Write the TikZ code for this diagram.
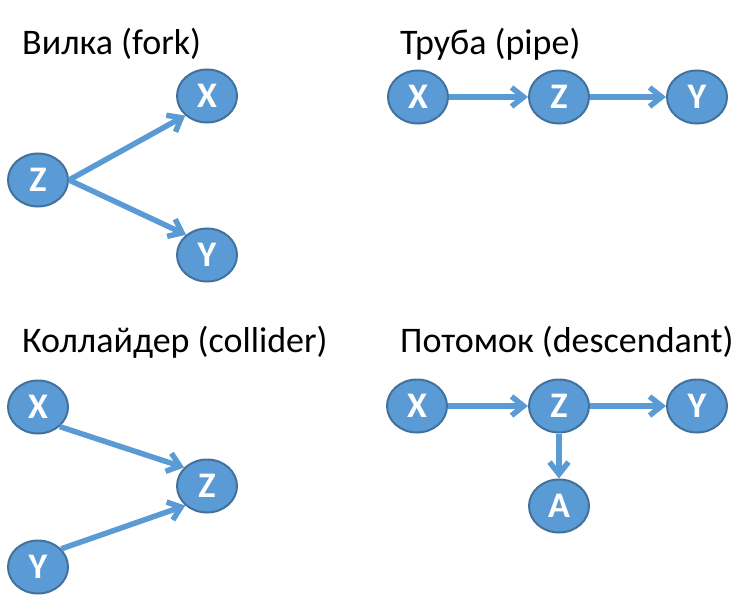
\documentclass[tikz,border=0pt]{standalone}
\usepackage{fontspec}
\setmainfont{Carlito}
\usetikzlibrary{arrows.meta,shapes.geometric}
\definecolor{varfill}{HTML}{5B9BD5}
\definecolor{varline}{HTML}{41719C}
\tikzset{
    var/.style={ellipse, fill=varfill, draw=varline, line width=2pt,
    minimum width=60pt, minimum height=53pt, inner sep=0pt, text=white,
    font=\fontsize{36}{36}\selectfont\bfseries},
    ttl/.style={anchor=base west, inner sep=0pt, font=\fontsize{36}{36}\selectfont},
    dep/.style={draw=varfill, line width=5.5pt, -{Straight Barb[length=12pt,width=19pt]}}
}
\begin{document}
\begin{tikzpicture}[x=1pt,y=-1pt]
        \useasboundingbox (0,0) rectangle (745,602);
        % fork
        \node[ttl] (forkttl) at (22,55) {Вилка (fork)};
        \node[var] (fz) at (38,180) {Z};
        \node[var] (fx) at (207,96) {X};
        \node[var] (fy) at (207,255) {Y};
        \draw[dep] (fz.east) -- (fx.222);
        \draw[dep] (fz.east) -- (fy.136);
        % pipe
        \node[ttl] (pipettl) at (400,55) {Труба (pipe)};
        \node[var] (px) at (418,97) {X};
        \node[var] (pz) at (559,97) {Z};
        \node[var] (py) at (697,97) {Y};
        \draw[dep] (px) -- (pz);
        \draw[dep] (pz) -- (py);
        % collider
        \node[ttl] (colttl) at (22,352) {Коллайдер (collider)};
        \node[var] (cx) at (38,407) {X};
        \node[var] (cz) at (207,486) {Z};
        \node[var] (cy) at (38,567) {Y};
        \draw[dep] (cx.-42) -- (cz.141);
        \draw[dep] (cy.38) -- (cz.222);
        % descendant
        \node[ttl] (descttl) at (400,352) {Потомок (descendant)};
        \node[var] (dx) at (417,406) {X};
        \node[var] (dz) at (559,406) {Z};
        \node[var] (dy) at (697,406) {Y};
        \node[var] (da) at (559,506) {A};
        \draw[dep] (dx) -- (dz);
        \draw[dep] (dz) -- (dy);
        \draw[dep] (dz) -- (da);
\end{tikzpicture}
\end{document}
